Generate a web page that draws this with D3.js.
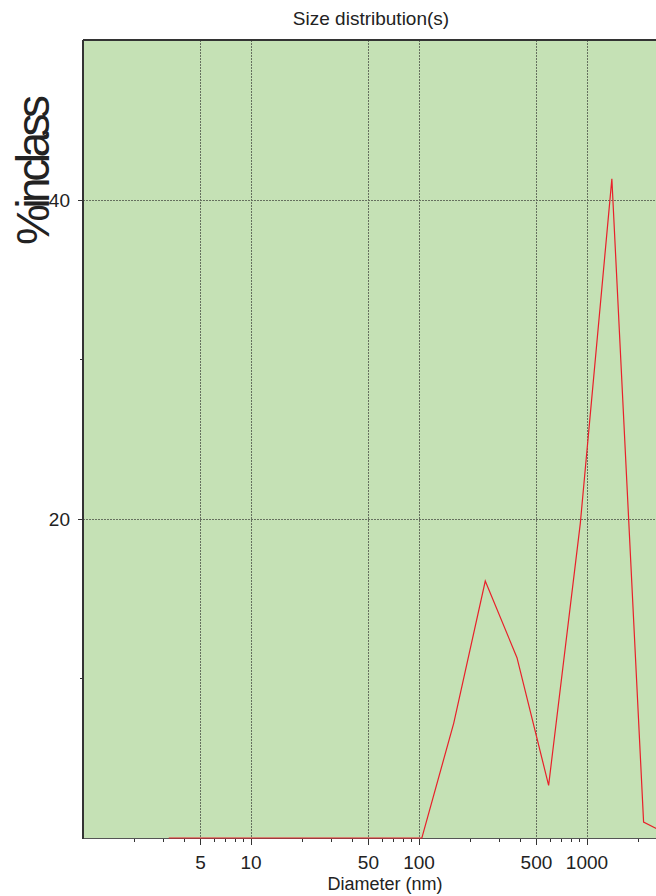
<!DOCTYPE html>
<html>
<head>
<meta charset="utf-8">
<script src="https://cdn.jsdelivr.net/npm/d3@7"></script>
<style>
  html, body { margin: 0; padding: 0; background: #fff; }
  svg { display: block; font-family: "Liberation Sans", Arial, sans-serif; }
</style>
</head>
<body>
<div id="chart"></div>
<script>
// Size distribution: % in class by diameter (nm)
const diameters = [3.24, 5.03, 7.82, 12.1, 18.9, 29.3, 45.5, 70.7, 104, 161, 248, 383, 591, 912, 1406, 2172, 3350, 5170, 7980];
const percentInClass = [0, 0, 0, 0, 0, 0, 0, 0, 0, 7.2, 16.1, 11.3, 3.3, 19.7, 41.3, 1.0, 0, 0, 0];

const xGridValues = [5, 10, 50, 100, 500, 1000, 5000];
const xTickLabels = [5, 10, 50, 100, 500, 1000];
const yMajorTicks = [20, 40];
const yMinorTicks = [10, 30];

const width = 656, height = 896;
const plotLeft = 83, plotTop = 40, plotBottom = 838;
const plotRight = plotLeft + 4 * 168;   // plot runs past the visible window

const svg = d3.select("#chart").append("svg")
  .attr("width", width).attr("height", height);

const x = d3.scaleLog().domain([1, 10000]).range([plotLeft, plotRight]);
const y = d3.scaleLinear().domain([0, 50]).range([plotBottom, plotTop]);

// plot background
svg.append("rect")
  .attr("x", plotLeft).attr("y", plotTop)
  .attr("width", plotRight - plotLeft).attr("height", plotBottom - plotTop)
  .attr("fill", "#c5e1b5");

// grid
const grid = svg.append("g").attr("stroke", "#66705f").attr("stroke-width", 1)
  .attr("stroke-dasharray", "2,1");
grid.selectAll("line.v").data(xGridValues).join("line")
  .attr("class", "v")
  .attr("x1", d => Math.round(x(d)) + 0.5).attr("x2", d => Math.round(x(d)) + 0.5)
  .attr("y1", plotTop).attr("y2", plotBottom);
grid.selectAll("line.h").data(yMajorTicks).join("line")
  .attr("class", "h")
  .attr("x1", plotLeft).attr("x2", plotRight)
  .attr("y1", d => Math.round(y(d)) + 0.5).attr("y2", d => Math.round(y(d)) + 0.5);

// bottom axis
const minorX = [];
for (let dec = 1; dec < 10000; dec *= 10) {
  for (let m = 1; m < 10; m++) minorX.push(dec * m);
}
const axisG = svg.append("g").attr("stroke", "#333");
axisG.append("line")
  .attr("x1", plotLeft).attr("x2", plotRight)
  .attr("y1", plotBottom + 0.5).attr("y2", plotBottom + 0.5)
  .attr("stroke", "#555").attr("stroke-width", 1);
axisG.selectAll("line.mx").data(minorX.filter(d => d > 1)).join("line")
  .attr("class", "mx")
  .attr("x1", d => Math.round(x(d)) + 0.5).attr("x2", d => Math.round(x(d)) + 0.5)
  .attr("y1", plotBottom + 1)
  .attr("y2", d => plotBottom + (xGridValues.includes(d) ? 7 : 4))
  .attr("stroke-width", 1);

// distribution line
const line = d3.line().x((d, i) => x(diameters[i])).y(d => y(d));
svg.append("path")
  .datum(percentInClass)
  .attr("d", line)
  .attr("fill", "none")
  .attr("stroke", "#e8202a")
  .attr("stroke-width", 1.2);

svg.append("g").selectAll("text").data(xTickLabels).join("text")
  .attr("x", d => x(d)).attr("y", 869)
  .attr("text-anchor", "middle")
  .attr("font-size", 19).attr("fill", "#222")
  .text(d => d);

svg.append("text")
  .attr("x", 385).attr("y", 890)
  .attr("text-anchor", "middle")
  .attr("font-size", 18).attr("fill", "#222")
  .text("Diameter (nm)");

// left axis and top frame
svg.append("line")
  .attr("x1", plotLeft).attr("x2", plotLeft).attr("y1", plotTop).attr("y2", plotBottom + 1)
  .attr("stroke", "#333").attr("stroke-width", 2);
svg.append("line")
  .attr("x1", plotLeft).attr("x2", plotRight).attr("y1", plotTop).attr("y2", plotTop)
  .attr("stroke", "#333").attr("stroke-width", 2);

svg.append("g").selectAll("line").data(yMajorTicks.concat(yMinorTicks)).join("line")
  .attr("x1", d => yMajorTicks.includes(d) ? plotLeft - 5 : plotLeft - 3).attr("x2", plotLeft)
  .attr("y1", d => Math.round(y(d)) + 0.5).attr("y2", d => Math.round(y(d)) + 0.5)
  .attr("stroke", "#333").attr("stroke-width", 1);

svg.append("g").selectAll("text").data(yMajorTicks).join("text")
  .attr("x", 70).attr("y", d => y(d) + 7)
  .attr("text-anchor", "end")
  .attr("font-size", 19).attr("fill", "#222")
  .text(d => d);

// title
svg.append("text")
  .attr("x", 371).attr("y", 25)
  .attr("text-anchor", "middle")
  .attr("font-size", 19).attr("fill", "#222")
  .text("Size distribution(s)");

// y axis title
svg.append("text")
  .attr("transform", "translate(49,170) rotate(-90)")
  .attr("text-anchor", "middle")
  .attr("font-size", 46).attr("fill", "#222")
  .attr("textLength", 150).attr("lengthAdjust", "spacing")
  .text("%inclass");
</script>
</body>
</html>
